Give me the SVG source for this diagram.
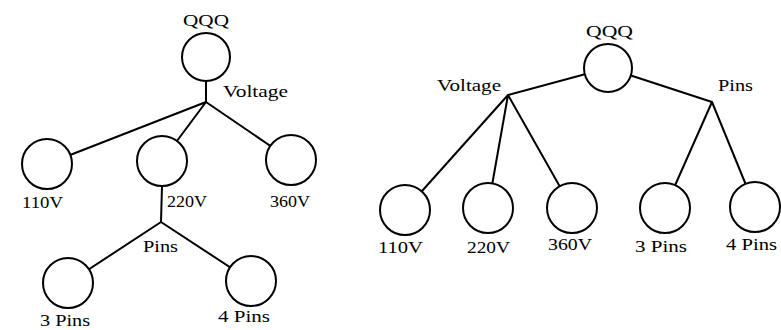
<svg xmlns="http://www.w3.org/2000/svg" width="781" height="330" viewBox="0 0 781 330">
<style>
.edge{stroke:#000;stroke-width:2;fill:none;stroke-linecap:round}
.node{fill:#fff;stroke:#000;stroke-width:2}
.lbl{font-family:"Liberation Serif","Times New Roman",serif;font-size:17px;fill:#000}
</style>
<rect width="781" height="330" fill="#fff"/>
<g id="connectors">
<path class="edge" d="M206 80 L206 102 M206 102 L47 164 M206 102 L162 161 M206 102 L291 160 M162 186 L161 222 M161 222 L68 283 M161 222 L251 281"/>
<path class="edge" d="M608 68 L508 95 M608 68 L712 102 M508 95 L405 210 M508 95 L488 208 M508 95 L572 208 M712 102 L665 208 M712 102 L755 207"/>
</g>
<g id="left-qqq"><circle class="node" cx="206" cy="57" r="24"/><text class="lbl" x="183" y="26" textLength="46" lengthAdjust="spacingAndGlyphs">QQQ</text></g>
<g id="left-voltage"><text class="lbl" x="223" y="97" textLength="65" lengthAdjust="spacingAndGlyphs">Voltage</text></g>
<g id="left-110v"><circle class="node" cx="47" cy="164" r="25"/><text class="lbl" x="22" y="208" textLength="41" lengthAdjust="spacingAndGlyphs">110V</text></g>
<g id="left-220v"><circle class="node" cx="162" cy="161" r="25"/><text class="lbl" x="167" y="207" textLength="40" lengthAdjust="spacingAndGlyphs">220V</text></g>
<g id="left-360v"><circle class="node" cx="291" cy="160" r="25"/><text class="lbl" x="270" y="207" textLength="40" lengthAdjust="spacingAndGlyphs">360V</text></g>
<g id="left-pins"><text class="lbl" x="143" y="252" textLength="35" lengthAdjust="spacingAndGlyphs">Pins</text></g>
<g id="left-3pins"><circle class="node" cx="68" cy="283" r="25"/><text class="lbl" x="40" y="326" textLength="50" lengthAdjust="spacingAndGlyphs">3 Pins</text></g>
<g id="left-4pins"><circle class="node" cx="251" cy="281" r="25"/><text class="lbl" x="218" y="322" textLength="52" lengthAdjust="spacingAndGlyphs">4 Pins</text></g>
<g id="right-qqq"><circle class="node" cx="608" cy="68" r="24"/><text class="lbl" x="586" y="37" textLength="47" lengthAdjust="spacingAndGlyphs">QQQ</text></g>
<g id="right-voltage"><text class="lbl" x="437" y="91" textLength="64" lengthAdjust="spacingAndGlyphs">Voltage</text></g>
<g id="right-pins"><text class="lbl" x="718" y="91" textLength="35" lengthAdjust="spacingAndGlyphs">Pins</text></g>
<g id="right-110v"><circle class="node" cx="405" cy="210" r="25"/><text class="lbl" x="378" y="253" textLength="45" lengthAdjust="spacingAndGlyphs">110V</text></g>
<g id="right-220v"><circle class="node" cx="488" cy="208" r="25"/><text class="lbl" x="467" y="253" textLength="43" lengthAdjust="spacingAndGlyphs">220V</text></g>
<g id="right-360v"><circle class="node" cx="572" cy="208" r="25"/><text class="lbl" x="548" y="250" textLength="44" lengthAdjust="spacingAndGlyphs">360V</text></g>
<g id="right-3pins"><circle class="node" cx="665" cy="208" r="25"/><text class="lbl" x="635" y="252" textLength="52" lengthAdjust="spacingAndGlyphs">3 Pins</text></g>
<g id="right-4pins"><circle class="node" cx="755" cy="207" r="25"/><text class="lbl" x="726" y="250" textLength="51" lengthAdjust="spacingAndGlyphs">4 Pins</text></g>
</svg>
